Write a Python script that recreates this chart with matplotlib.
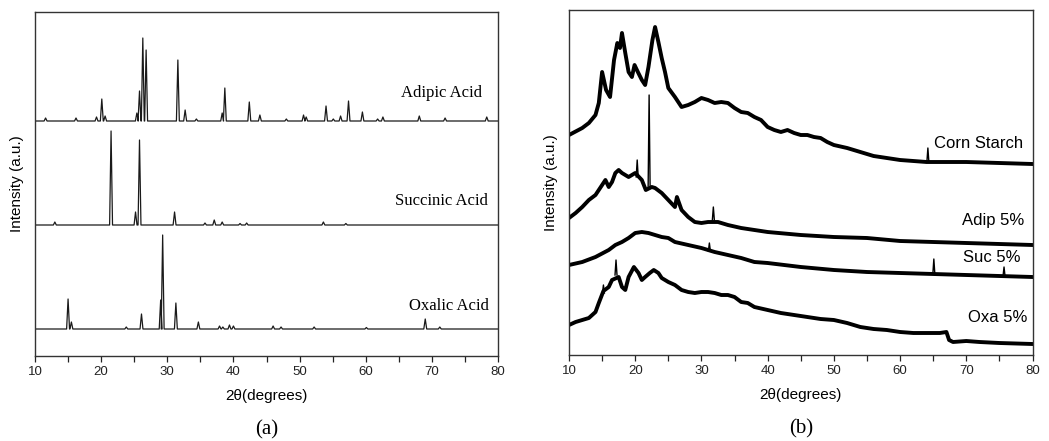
import matplotlib
matplotlib.use("Agg")
import matplotlib.pyplot as plt
from matplotlib.ticker import MultipleLocator

# ---------------- Panel (a): pure acids (peak lists) -------------
adipic_pos = [11.6, 16.2, 19.3, 20.1, 20.6, 25.4, 25.8, 26.3, 26.8, 31.6, 32.7, 34.4,
              38.3, 38.7, 42.4, 44.0, 48.0, 50.6, 51.0, 54.0, 55.1, 56.2, 57.4, 59.5,
              61.8, 62.6, 68.1, 72.0, 78.3]
adipic_h = [3, 3, 4, 22, 5, 8, 30, 83, 71, 61, 11, 2,
            8, 33, 19, 6, 2, 6, 4, 15, 2, 5, 20, 9,
            2, 4, 5, 3, 4]
succinic_pos = [13.0, 21.5, 25.2, 25.8, 31.1, 35.7, 37.1, 38.3, 41.0, 42.0, 53.6, 57.0]
succinic_h = [3, 94, 13, 85, 13, 2, 5, 3, 1.5, 2, 3, 1.5]
oxalic_pos = [15.0, 15.5, 23.8, 26.1, 29.0, 29.3, 31.3, 34.7, 37.9, 38.4, 39.4, 40.0,
              46.0, 47.2, 52.2, 60.1, 69.0, 71.2]
oxalic_h = [30, 7, 2, 15, 29, 94, 26, 7, 3, 2, 4, 3,
            3, 2, 2, 1.5, 10, 2]
acid_baselines = [235, 131, 27]
acid_names = ["Adipic Acid", "Succinic Acid", "Oxalic Acid"]
acid_label_x = [77.6, 78.5, 78.6]
acid_label_y = [263, 155, 50]

# ---------------- Panel (b): starch films ---------------
corn_x = [10, 12, 13, 14, 14.5, 15, 15.6, 16.2, 16.8, 17.3, 17.7, 18.0, 18.5, 19, 19.5,
          19.9, 20.4, 21, 21.5, 22, 22.6, 23, 23.5, 24, 24.5, 25, 26, 27, 28, 29, 30,
          31, 32, 33, 34, 35, 36, 37, 38, 39, 40, 41, 42, 43, 44, 45, 46, 47, 48, 49,
          50, 52, 54, 56, 58, 60, 62, 64, 66, 70, 75, 80]
corn_y = [220, 227, 232, 240, 252, 283, 265, 258, 295, 312, 307, 322, 302, 283, 278,
          290, 283, 275, 270, 288, 315, 328, 313, 297, 283, 267, 258, 248, 250, 253, 257,
          255, 252, 253, 252, 247, 243, 242, 238, 235, 228, 225, 223, 225, 222, 220, 220,
          218, 217, 213, 210, 207, 203, 199, 197, 195, 194, 193, 193, 193, 192, 191]
adip_x = [10, 11, 12, 13, 14, 15, 15.5, 16, 16.5, 17, 17.5, 18, 19, 20, 21, 21.6,
          22.5, 23, 24, 25, 26, 26.3, 27, 28, 29, 30, 31, 32.5, 34, 36, 38, 40, 45,
          50, 55, 60, 65, 70, 75, 80]
adip_y = [137, 142, 148, 155, 160, 170, 175, 168, 173, 182, 185, 182, 178, 182, 175, 165,
          168, 167, 162, 155, 148, 158, 145, 138, 133, 132, 133, 133, 130, 127, 125, 123,
          120, 118, 117, 114, 113, 112, 111, 110]
suc_x = [10, 12, 14, 16, 17, 18, 19, 20, 21, 22, 23, 24, 25, 26, 28, 30, 32, 34, 36,
         38, 40, 45, 50, 55, 60, 65, 70, 75, 80]
suc_y = [90, 93, 98, 105, 110, 113, 117, 122, 123, 122, 120, 118, 117, 113, 110, 107,
         103, 100, 97, 93, 92, 88, 85, 83, 82, 81, 80, 79, 78]
oxa_x = [10, 11, 12, 13, 14, 14.5, 15.2, 16, 16.5, 17.5, 18, 18.5, 19, 19.8, 20.5, 21,
         21.5, 22.2, 22.8, 23.5, 24, 25, 26, 27, 28, 29, 30, 31, 32, 33, 34, 35, 36, 37,
         38, 40, 42, 44, 46, 48, 50, 52, 54, 56, 58, 60, 62, 64, 66, 67, 67.4, 68, 70,
         72, 75, 80]
oxa_y = [30, 33, 35, 37, 43, 52, 64, 68, 75, 78, 68, 65, 78, 88, 82, 75,
         78, 82, 85, 82, 77, 73, 70, 65, 63, 62, 63, 63, 62, 60, 60, 58, 53, 52,
         48, 45, 42, 40, 38, 36, 35, 32, 28, 26, 25, 23, 22, 22, 22, 23, 15, 13, 14,
         13, 12, 11]
# sharp reflections on the film patterns: (series, position, base, top)
spike_series = ["corn", "adip", "adip", "adip", "suc", "suc", "suc", "oxa", "oxa"]
spike_pos = [64.2, 20.3, 22.1, 31.8, 31.2, 65.1, 75.7, 17.1, 15.2]
spike_base = [193, 178, 167, 135, 104, 81, 79, 80, 62]
spike_top = [207, 195, 260, 148, 112, 96, 88, 95, 70]
film_names = ["Corn Starch", "Adip 5%", "Suc 5%", "Oxa 5%"]
film_label_x = [65.1, 69.4, 69.5, 70.3]
film_label_y = [212, 134, 98, 37]

x_ticks = [10, 20, 30, 40, 50, 60, 70, 80]


def peak_vertices(pos, h, base, w=0.22, x0=10, x1=80):
    xs, ys = [x0], [base]
    for p, hh in sorted(zip(pos, h)):
        xs += [p - w, p, p + w]
        ys += [base, base + hh, base]
    xs.append(x1)
    ys.append(base)
    return xs, ys


fig = plt.figure(figsize=(10.49, 4.41), dpi=100)
axa = fig.add_axes([35 / 1049, 85 / 441, 463 / 1049, 344 / 441])
axb = fig.add_axes([569 / 1049, 86 / 441, 463.5 / 1049, 345 / 441])

sans = ["Liberation Sans", "DejaVu Sans"]
serif = ["Liberation Serif", "DejaVu Serif"]

# panel a
for (pos, h), base, name, lx, ly in zip(
        [(adipic_pos, adipic_h), (succinic_pos, succinic_h), (oxalic_pos, oxalic_h)],
        acid_baselines, acid_names, acid_label_x, acid_label_y):
    xs, ys = peak_vertices(pos, h, base)
    axa.plot(xs, ys, color="#1a1a1a", lw=0.9)
    axa.text(lx, ly, name, family=serif, fontsize=12, ha="right", va="center")
axa.set_ylim(0, 344)

# panel b
series = {"corn": (corn_x, corn_y), "adip": (adip_x, adip_y),
          "suc": (suc_x, suc_y), "oxa": (oxa_x, oxa_y)}
for key, (xx, yy) in series.items():
    axb.plot(xx, yy, color="black", lw=2.8, solid_joinstyle="round")
for s, p, b, t in zip(spike_series, spike_pos, spike_base, spike_top):
    axb.plot([p - 0.15, p, p + 0.15], [b, t, b], color="black", lw=1.0)
for name, lx, ly in zip(film_names, film_label_x, film_label_y):
    axb.text(lx, ly, name, family=sans, fontsize=12, ha="left", va="center")
axb.set_ylim(0, 345)

for ax, tag, xpad in [(axa, "(a)", 8), (axb, "(b)", 8)]:
    ax.set_xlim(10, 80)
    ax.set_xticks(x_ticks)
    ax.xaxis.set_minor_locator(MultipleLocator(5))
    ax.set_yticks([])
    ax.tick_params(axis="x", which="both", direction="out", length=4, width=0.9,
                   labelsize=9.5, pad=3, colors="#222222")
    for lab in ax.get_xticklabels():
        lab.set_family(sans)
    for sp in ax.spines.values():
        sp.set_color("#333333")
        sp.set_linewidth(1.0)
    ax.set_xlabel("2\u03b8(degrees)", family=sans, fontsize=11, labelpad=8)
    ax.set_ylabel("Intensity (a.u.)", family=sans, fontsize=11, labelpad=xpad)
    ax.text(0.5, -74 / 344, tag, transform=ax.transAxes, family=serif, fontsize=15,
            ha="center", va="center")

fig.savefig("out.png", dpi=100)
